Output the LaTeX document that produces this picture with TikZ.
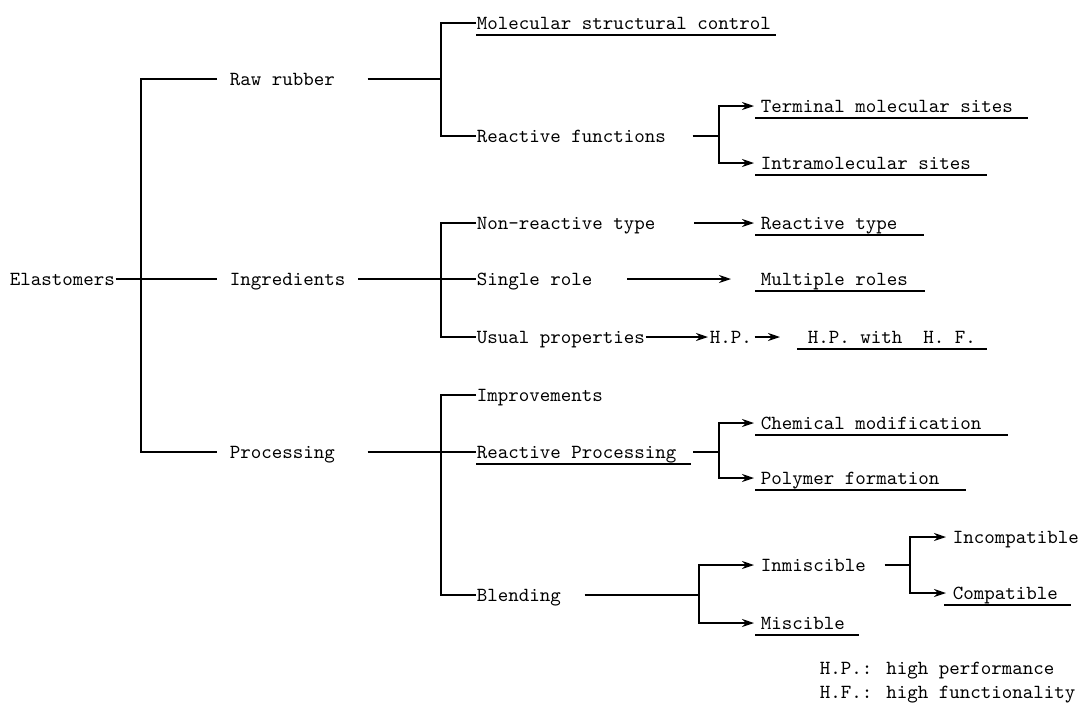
\documentclass[tikz,border=0pt]{standalone}
\usepackage{fontspec}
\usepackage{tikz}
\usetikzlibrary{arrows.meta,calc}

\begin{document}
\begin{tikzpicture}[x=0.5pt, y=-0.5pt, line width=0.8pt,
    >={Stealth[length=6pt, width=4pt, inset=2pt]},
    lbl/.style={font=\ttfamily, inner sep=0pt, text height=8.6pt, text depth=2.5pt, anchor=west},
    mid/.style={lbl, inner xsep=6pt},
    arr/.style={->, shorten >=3pt}]
    \useasboundingbox (0,0) rectangle (1082,708);

    % 第一、二层
    \node[lbl] (elast) at (9,279)   {Elastomers};
    \node[mid] (raw)   at (217,79)  {Raw rubber};
    \node[mid] (ingr)  at (217,279) {Ingredients};
    \node[mid] (proc)  at (217,452) {Processing};

    % 第三层
    \node[lbl] (mol)    at (476,23)  {Molecular structural control};
    \node[lbl] (rf)     at (476,136) {Reactive functions};
    \node[lbl] (nonr)   at (476,223) {Non-reactive type};
    \node[lbl] (single) at (476,279) {Single role};
    \node[lbl] (usual)  at (476,337) {Usual properties};
    \node[lbl] (impr)   at (476,395) {Improvements};
    \node[lbl] (rproc)  at (476,452) {Reactive Processing};
    \node[lbl] (blend)  at (476,595) {Blending};

    % 第四层
    \node[lbl] (term)   at (760,106) {Terminal molecular sites};
    \node[lbl] (intra)  at (760,163) {Intramolecular sites};
    \node[lbl] (rtype)  at (760,223) {Reactive type};
    \node[lbl] (multi)  at (760,279) {Multiple roles};
    \node[lbl] (hp)     at (709,337) {H.P.};
    \node[lbl] (hphf)   at (807,337) {H.P. with\ \ H. F.};
    \node[lbl] (chem)   at (760,423) {Chemical modification};
    \node[lbl] (poly)   at (760,478) {Polymer formation};
    \node[lbl] (inmisc) at (760,565) {Inmiscible};
    \node[lbl] (misc)   at (760,623) {Miscible};
    \node[lbl] (incomp) at (952,537) {Incompatible};
    \node[lbl] (compat) at (952,593) {Compatible};

    % 注释
    \node[lbl] (hpleg) at (819,668) {H.P.: high performance};
    \node[lbl] (hfleg) at (819,692) {H.F.: high functionality};

    % 分支点
    \coordinate (j0) at (141,279);
    \coordinate (j1) at (441,79);
    \coordinate (j3) at (441,279);
    \coordinate (j4) at (441,452);
    \coordinate (j2) at (719,136);
    \coordinate (j5) at (719,452);
    \coordinate (j6) at (699,595);
    \coordinate (j7) at (910,565);

    % 连线
    \draw (elast) -- (j0);
    \draw (raw) -| (j0) |- (proc);
    \draw (j0) -- (ingr);

    \draw[shorten <=10pt] (raw) -- (j1);
    \draw (mol) -| (j1) |- (rf);
    \draw (ingr) -- (single);
    \draw (nonr) -| (j3) |- (usual);
    \draw[shorten <=10pt] (proc) -- (rproc);
    \draw (impr) -| (j4) |- (blend);

    \draw[shorten <=13pt] (rf) -- (j2);
    \draw[arr] (j2) |- (term);
    \draw[arr] (j2) |- (intra);

    \draw[arr, shorten <=19pt] (nonr) -- (rtype);
    \draw[arr, shorten <=17pt, shorten >=14.5pt] (single) -- (multi);
    \draw[arr, shorten >=0.5pt] (usual) -- (hp);
    \draw[arr, shorten <=1pt, shorten >=13.5pt] (hp) -- (hphf);

    \draw[shorten <=8pt] (rproc) -- (j5);
    \draw[arr] (j5) |- (chem);
    \draw[arr] (j5) |- (poly);

    \draw[shorten <=11.5pt] (blend) -- (j6);
    \draw[arr] (j6) |- (inmisc);
    \draw[arr] (j6) |- (misc);

    \draw[shorten <=9pt] (inmisc) -- (j7);
    \draw[arr] (j7) |- (incomp);
    \draw[arr] (j7) |- (compat);

    % 下划线
    \foreach \n/\l/\r in {mol/0/4, term/5/14, intra/5/15, rtype/5/26, multi/5/16,
        hphf/10/10, rproc/0/14, chem/5/26, poly/5/26, misc/5/13, compat/8/12}
      \draw[line width=0.6pt] ($(\n.south west)+(-\l,0)$) -- ($(\n.south east)+(\r,0)$);
\end{tikzpicture}
\end{document}
